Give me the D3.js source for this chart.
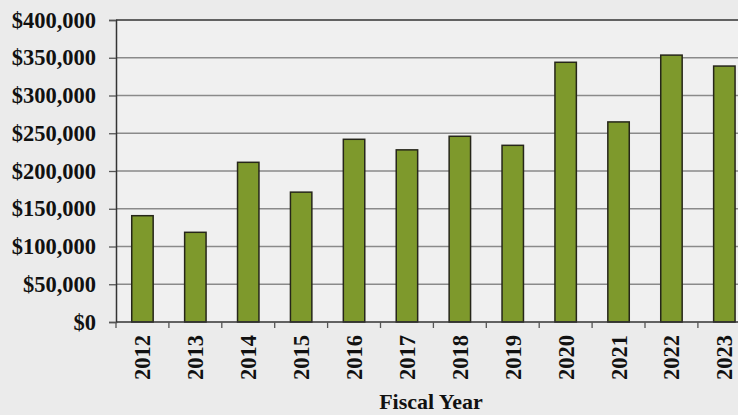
<!DOCTYPE html>
<html>
<head>
<meta charset="utf-8">
<script src="https://cdn.jsdelivr.net/npm/d3@7"></script>
<style>
  html, body { margin: 0; padding: 0; background: #ebebeb; }
  svg { display: block; }
</style>
</head>
<body>
<div id="chart"></div>
<script>
const years = ['2012', '2013', '2014', '2015', '2016', '2017', '2018', '2019', '2020', '2021', '2022', '2023'];
const amounts = [140800, 118800, 211500, 172000, 242000, 228000, 246000, 234000, 344000, 265000, 353500, 339000];
const yTicks = [0, 50000, 100000, 150000, 200000, 250000, 300000, 350000, 400000];

const width = 738;
const height = 415;
const margin = { top: 20, left: 116, bottom: 93 };
const step = 52.9;
const plotBottom = height - margin.bottom;
const fontFamily = '"Liberation Serif", "Times New Roman", serif';

const svg = d3.select('#chart')
  .append('svg')
  .attr('width', width)
  .attr('height', height);

svg.append('rect')
  .attr('width', width)
  .attr('height', height)
  .style('fill', '#ebebeb');

const x = d3.scaleBand()
  .domain(years)
  .range([margin.left, margin.left + step * years.length])
  .paddingInner(0.595)
  .paddingOuter(0.2975);

const y = d3.scaleLinear()
  .domain([0, 400000])
  .range([plotBottom, margin.top]);

// plot area
svg.append('rect')
  .attr('x', margin.left)
  .attr('y', margin.top)
  .attr('width', step * years.length)
  .attr('height', plotBottom - margin.top)
  .style('fill', '#f0f0f0');

// gridlines
svg.append('g')
  .selectAll('line')
  .data(yTicks.filter(d => d > 0))
  .join('line')
  .attr('x1', margin.left)
  .attr('x2', width)
  .attr('y1', d => y(d))
  .attr('y2', d => y(d))
  .attr('stroke', d => d === 400000 ? '#333' : '#8a8a8a')
  .attr('stroke-width', d => d === 400000 ? 1.6 : 1.4);

// bars
svg.append('g')
  .selectAll('rect')
  .data(years.map((yr, i) => ({ yr, v: amounts[i] })))
  .join('rect')
  .attr('x', d => x(d.yr))
  .attr('y', d => y(d.v))
  .attr('width', x.bandwidth())
  .attr('height', d => plotBottom - y(d.v))
  .style('fill', '#7e992c')
  .style('stroke', '#26261a')
  .style('stroke-width', 1.5);

// y axis
const yAxis = d3.axisLeft(y)
  .tickValues(yTicks)
  .tickSize(7)
  .tickPadding(13)
  .tickFormat(d => '$' + d3.format(',')(d));

svg.append('g')
  .attr('transform', `translate(${margin.left}, 0)`)
  .call(yAxis)
  .call(g => {
    g.select('.domain').attr('stroke', '#333').attr('stroke-width', 1.5);
    g.selectAll('.tick line').attr('stroke', '#555').attr('stroke-width', 1.3);
    g.selectAll('.tick text')
      .attr('fill', '#111')
      .style('font-family', fontFamily)
      .style('font-weight', 'bold')
      .style('font-size', '22.5px');
  });

// x axis
const xTickScale = d3.scaleLinear()
  .domain([0, years.length])
  .range([margin.left, margin.left + step * years.length]);

svg.append('line')
  .attr('x1', margin.left)
  .attr('x2', width)
  .attr('y1', plotBottom)
  .attr('y2', plotBottom)
  .attr('stroke', '#333')
  .attr('stroke-width', 1.5);

svg.append('g')
  .selectAll('line')
  .data(d3.range(years.length + 1))
  .join('line')
  .attr('x1', d => xTickScale(d))
  .attr('x2', d => xTickScale(d))
  .attr('y1', plotBottom)
  .attr('y2', plotBottom + 6)
  .attr('stroke', '#555')
  .attr('stroke-width', 1.3);

svg.append('g')
  .selectAll('text')
  .data(years)
  .join('text')
  .attr('transform', d => `translate(${x(d) + x.bandwidth() / 2 + 8}, ${plotBottom + 13}) rotate(-90)`)
  .attr('text-anchor', 'end')
  .style('font-family', fontFamily)
  .style('font-weight', 'bold')
  .style('font-size', '22.5px')
  .attr('fill', '#111')
  .text(d => d);

svg.append('text')
  .attr('x', 431)
  .attr('y', 409)
  .attr('text-anchor', 'middle')
  .style('font-family', fontFamily)
  .style('font-weight', 'bold')
  .style('font-size', '22px')
  .attr('fill', '#111')
  .text('Fiscal Year');
</script>
</body>
</html>
